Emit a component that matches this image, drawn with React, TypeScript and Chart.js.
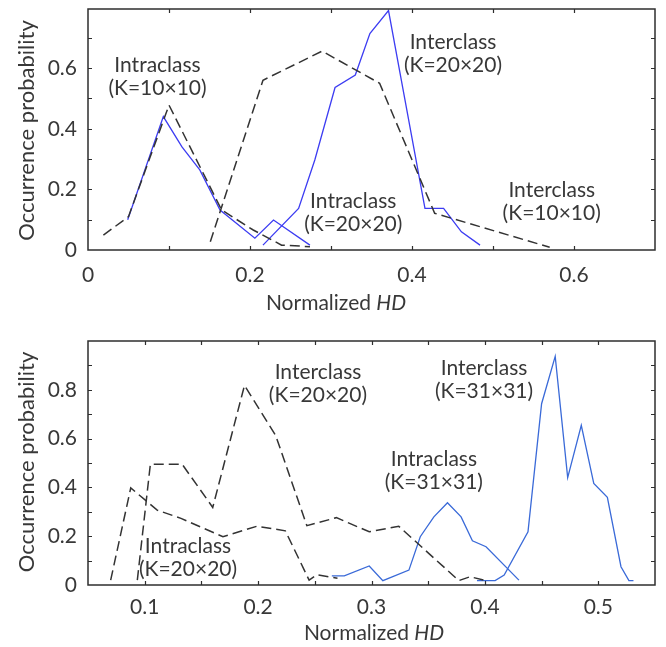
import React, { useEffect, useRef } from "react";
import { Chart, registerables } from "chart.js";

Chart.register(...registerables);

// ---------- Top panel data ----------
const topXTicks = [0, 0.1, 0.2, 0.3, 0.4, 0.5, 0.6, 0.7];
const topXLabels = ["0", "", "0.2", "", "0.4", "", "0.6", ""];
const topYTicks = [0, 0.1, 0.2, 0.3, 0.4, 0.5, 0.6, 0.7];
const topYLabels = ["0", "", "0.2", "", "0.4", "", "0.6", ""];

const topIntra10BlueX = [0.049, 0.093, 0.116, 0.138, 0.163, 0.206, 0.229, 0.274];
const topIntra10BlueY = [0.1, 0.44, 0.34, 0.264, 0.132, 0.039, 0.099, 0.016];

const topIntra10DashX = [0.019, 0.05, 0.1, 0.165, 0.204, 0.239, 0.274];
const topIntra10DashY = [0.049, 0.11, 0.478, 0.132, 0.066, 0.016, 0.011];

const topInter10DashX = [0.151, 0.216, 0.289, 0.36, 0.428, 0.57];
const topInter10DashY = [0.027, 0.56, 0.656, 0.55, 0.121, 0.009];

const topInter20BlueX = [0.216, 0.26, 0.28, 0.305, 0.33, 0.348, 0.371, 0.416, 0.439, 0.461, 0.484];
const topInter20BlueY = [0.016, 0.137, 0.297, 0.536, 0.577, 0.714, 0.79, 0.137, 0.137, 0.06, 0.016];

const topNotes = [
  ["Intraclass", "(K=10×10)"],
  ["Interclass", "(K=20×20)"],
  ["Intraclass", "(K=20×20)"],
  ["Interclass", "(K=10×10)"],
];
const topNoteX = [0.0858, 0.4506, 0.3275, 0.5725];
const topNoteY = [0.571, 0.648, 0.124, 0.159];

// ---------- Bottom panel data ----------
const botXTicks = [0.05, 0.1, 0.15, 0.2, 0.25, 0.3, 0.35, 0.4, 0.45, 0.5, 0.55];
const botXLabels = ["", "0.1", "", "0.2", "", "0.3", "", "0.4", "", "0.5", ""];
const botYTicks = [0, 0.1, 0.2, 0.3, 0.4, 0.5, 0.6, 0.7, 0.8, 0.9, 1.0];
const botYLabels = ["0", "", "0.2", "", "0.4", "", "0.6", "", "0.8", "", ""];

const botIntra20DashX = [0.07, 0.0877, 0.111, 0.132, 0.169, 0.199, 0.224, 0.245, 0.252, 0.27];
const botIntra20DashY = [0.02, 0.398, 0.307, 0.273, 0.198, 0.241, 0.222, 0.02, 0.042, 0.028];

const botInter20DashX = [0.0935, 0.105, 0.133, 0.16, 0.188, 0.2155, 0.243, 0.269, 0.298, 0.324, 0.377, 0.387, 0.399];
const botInter20DashY = [0.02, 0.495, 0.495, 0.318, 0.818, 0.613, 0.243, 0.276, 0.218, 0.241, 0.018, 0.034, 0.02];

const botIntra31BlueX = [0.265, 0.276, 0.298, 0.31, 0.333, 0.343, 0.355, 0.367, 0.379, 0.389, 0.401, 0.43];
const botIntra31BlueY = [0.037, 0.037, 0.078, 0.018, 0.061, 0.198, 0.279, 0.337, 0.279, 0.181, 0.157, 0.02];

const botInter31BlueX = [0.393, 0.409, 0.417, 0.438, 0.45, 0.462, 0.473, 0.485, 0.496, 0.508, 0.52, 0.527, 0.531];
const botInter31BlueY = [0.018, 0.018, 0.041, 0.218, 0.743, 0.937, 0.44, 0.654, 0.416, 0.359, 0.075, 0.018, 0.018];

const botNotes = [
  ["Interclass", "(K=20×20)"],
  ["Interclass", "(K=31×31)"],
  ["Intraclass", "(K=31×31)"],
  ["Intraclass", "(K=20×20)"],
];
const botNoteX = [0.2528, 0.3992, 0.355, 0.1382];
const botNoteY = [0.824, 0.84, 0.47, 0.1125];

// ---------- Styles ----------
const FONT = 'Lato, "Open Sans", "DejaVu Sans", sans-serif';
const TEXT = "#383838";
const DASH = "#333333";
const TOP_BLUE = "#3c3cf2";
const BOT_BLUE = "#3a6ad8";

const pts = (xs: number[], ys: number[]) => xs.map((x, i) => ({ x, y: ys[i] }));

type Panel = {
  height: number;
  padTop: number;
  padRight: number;
  yAxisW: number;
  xAxisH: number;
  xMin: number;
  xMax: number;
  yMin: number;
  yMax: number;
  xTicks: number[];
  xLabels: string[];
  yTicks: number[];
  yLabels: string[];
  xLabelPad: number;
  datasets: any[];
  notes: string[][];
  noteX: number[];
  noteY: number[];
  xTitleCx: number;
  xTitleCy: number;
  yTitleCx: number;
  yTitleCy: number;
};

function makeLine(xs: number[], ys: number[], color: string, dashed: boolean) {
  return {
    data: pts(xs, ys),
    showLine: true,
    borderColor: color,
    backgroundColor: color,
    borderWidth: dashed ? 1.5 : 1.3,
    borderDash: dashed ? [10, 5] : [],
    pointRadius: 0,
    tension: 0,
    fill: false,
  };
}

function framePlugin(p: Panel) {
  return {
    id: "frameAndNotes",
    afterDraw(chart: any) {
      const { ctx, chartArea: a } = chart;
      const xs = chart.scales.x;
      const ys = chart.scales.y;
      ctx.save();
      // frame
      ctx.strokeStyle = "#2e2e2e";
      ctx.lineWidth = 1.5;
      ctx.setLineDash([]);
      ctx.strokeRect(a.left, a.top, a.right - a.left, a.bottom - a.top);
      // inward ticks
      const tl = 4;
      ctx.lineWidth = 1.2;
      ctx.beginPath();
      xs.ticks.forEach((t: any) => {
        const px = Math.round(xs.getPixelForValue(t.value)) + 0.5;
        if (px <= a.left + 1 || px >= a.right - 1) return;
        ctx.moveTo(px, a.bottom);
        ctx.lineTo(px, a.bottom - tl);
        ctx.moveTo(px, a.top);
        ctx.lineTo(px, a.top + tl);
      });
      ys.ticks.forEach((t: any) => {
        const py = Math.round(ys.getPixelForValue(t.value)) + 0.5;
        if (py <= a.top + 1 || py >= a.bottom - 1) return;
        ctx.moveTo(a.left, py);
        ctx.lineTo(a.left + tl, py);
        ctx.moveTo(a.right, py);
        ctx.lineTo(a.right - tl, py);
      });
      ctx.stroke();

      // annotations
      ctx.fillStyle = TEXT;
      ctx.font = `21px ${FONT}`;
      ctx.textAlign = "center";
      ctx.textBaseline = "middle";
      const lh = 23;
      p.notes.forEach((lines, i) => {
        const cx = xs.getPixelForValue(p.noteX[i]);
        const cy = ys.getPixelForValue(p.noteY[i]);
        lines.forEach((s, j) => {
          ctx.fillText(s, cx, cy + (j - (lines.length - 1) / 2) * lh);
        });
      });

      // x title: "Normalized " + italic "HD"
      const normal = `21px ${FONT}`;
      const ital = `italic 21px ${FONT}`;
      ctx.font = normal;
      const w1 = ctx.measureText("Normalized ").width;
      ctx.font = ital;
      const w2 = ctx.measureText("HD").width;
      const x0 = p.xTitleCx - (w1 + w2) / 2;
      ctx.textAlign = "left";
      ctx.font = normal;
      ctx.fillText("Normalized ", x0, p.xTitleCy);
      ctx.font = ital;
      ctx.fillText("HD", x0 + w1, p.xTitleCy);

      // y title
      ctx.save();
      ctx.translate(p.yTitleCx, p.yTitleCy);
      ctx.rotate(-Math.PI / 2);
      ctx.textAlign = "center";
      ctx.font = `22px ${FONT}`;
      ctx.fillText("Occurrence probability", 0, 0);
      ctx.restore();

      ctx.restore();
    },
  };
}

function buildConfig(p: Panel): any {
  return {
    type: "scatter",
    data: { datasets: p.datasets },
    options: {
      animation: false,
      responsive: false,
      maintainAspectRatio: false,
      devicePixelRatio: 1,
      layout: { padding: { left: 0, right: p.padRight, top: p.padTop, bottom: 0 } },
      plugins: { legend: { display: false }, tooltip: { enabled: false } },
      scales: {
        x: {
          type: "linear",
          position: "bottom",
          min: p.xMin,
          max: p.xMax,
          afterBuildTicks: (s: any) => {
            s.ticks = p.xTicks.map((v) => ({ value: v }));
          },
          afterFit: (s: any) => {
            s.height = p.xAxisH;
            s.paddingLeft = 0;
            s.paddingRight = 0;
          },
          grid: { display: false, drawTicks: false },
          border: { display: false },
          ticks: {
            autoSkip: false,
            maxRotation: 0,
            padding: p.xLabelPad,
            color: TEXT,
            font: { family: FONT, size: 21 },
            callback: (_v: any, i: number) => p.xLabels[i],
          },
        },
        y: {
          type: "linear",
          min: p.yMin,
          max: p.yMax,
          afterBuildTicks: (s: any) => {
            s.ticks = p.yTicks.map((v) => ({ value: v }));
          },
          afterFit: (s: any) => {
            s.width = p.yAxisW;
            s.paddingTop = 0;
            s.paddingBottom = 0;
          },
          grid: { display: false, drawTicks: false },
          border: { display: false },
          ticks: {
            autoSkip: false,
            padding: 11,
            color: TEXT,
            font: { family: FONT, size: 21 },
            callback: (_v: any, i: number) => p.yLabels[i],
          },
        },
      },
    },
    plugins: [framePlugin(p)],
  };
}

const topPanel: Panel = {
  height: 320,
  padTop: 9,
  padRight: 11,
  yAxisW: 88,
  xAxisH: 70,
  xMin: 0,
  xMax: 0.7,
  yMin: 0,
  yMax: 0.795,
  xTicks: topXTicks,
  xLabels: topXLabels,
  yTicks: topYTicks,
  yLabels: topYLabels,
  xLabelPad: 13,
  datasets: [
    makeLine(topIntra10DashX, topIntra10DashY, DASH, true),
    makeLine(topInter10DashX, topInter10DashY, DASH, true),
    makeLine(topIntra10BlueX, topIntra10BlueY, TOP_BLUE, false),
    makeLine(topInter20BlueX, topInter20BlueY, TOP_BLUE, false),
  ],
  notes: topNotes,
  noteX: topNoteX,
  noteY: topNoteY,
  xTitleCx: 336,
  xTitleCy: 303,
  yTitleCx: 27,
  yTitleCy: 130.5,
};

const botPanel: Panel = {
  height: 327,
  padTop: 21,
  padRight: 11,
  yAxisW: 88,
  xAxisH: 62,
  xMin: 0.05,
  xMax: 0.55,
  yMin: 0,
  yMax: 1.0,
  xTicks: botXTicks,
  xLabels: botXLabels,
  yTicks: botYTicks,
  yLabels: botYLabels,
  xLabelPad: 10,
  datasets: [
    makeLine(botIntra20DashX, botIntra20DashY, DASH, true),
    makeLine(botInter20DashX, botInter20DashY, DASH, true),
    makeLine(botIntra31BlueX, botIntra31BlueY, BOT_BLUE, false),
    makeLine(botInter31BlueX, botInter31BlueY, BOT_BLUE, false),
  ],
  notes: botNotes,
  noteX: botNoteX,
  noteY: botNoteY,
  xTitleCx: 374,
  xTitleCy: 313,
  yTitleCx: 27,
  yTitleCy: 142,
};

function ChartPanel({ panel }: { panel: Panel }) {
  const ref = useRef<HTMLCanvasElement | null>(null);
  useEffect(() => {
    if (!ref.current) return;
    const chart = new Chart(ref.current, buildConfig(panel));
    return () => chart.destroy();
  }, [panel]);
  return (
    <canvas
      ref={ref}
      width={666}
      height={panel.height}
      style={{ display: "block", width: 666, height: panel.height }}
    />
  );
}

export default function App() {
  return (
    <div
      style={{
        position: "absolute",
        left: 0,
        top: 0,
        width: 666,
        height: 647,
        background: "#ffffff",
      }}
    >
      <ChartPanel panel={topPanel} />
      <ChartPanel panel={botPanel} />
    </div>
  );
}
